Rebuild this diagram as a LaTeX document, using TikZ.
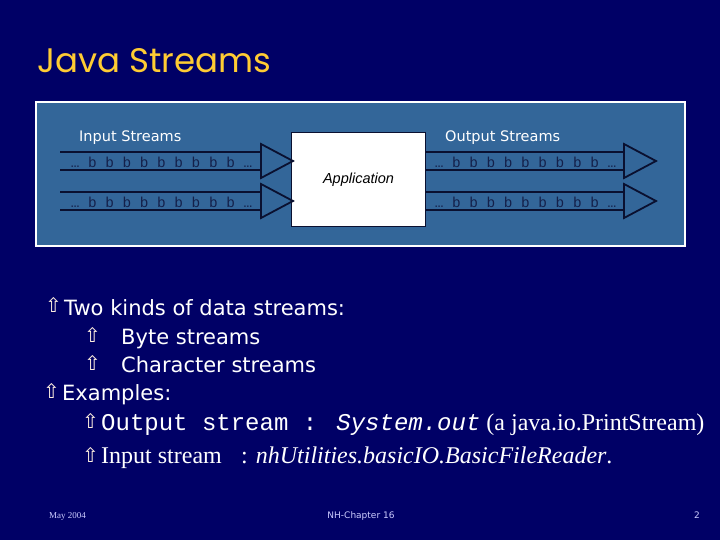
\documentclass[tikz,border=0pt]{standalone}
\usepackage{fontspec}
\setmainfont{DejaVu Sans}
\newfontfamily\titlefont{Poppins}
\newfontfamily\courfont{Liberation Mono}
\newfontfamily\timesfont{Liberation Serif}
\newfontfamily\arialfont{Liberation Sans}
\usetikzlibrary{positioning}
\definecolor{slidebg}{HTML}{000066}
\definecolor{panelblue}{HTML}{336699}
\definecolor{titleyellow}{HTML}{FFCC33}
\definecolor{bitnavy}{HTML}{14204A}
\definecolor{edgedark}{HTML}{0A1030}
\definecolor{footlav}{HTML}{CCCCFF}
\definecolor{iconwhite}{HTML}{FFF0E0}
\tikzset{
  titletxt/.style={font=\titlefont\fontsize{34}{40}\selectfont,text=titleyellow,
                   inner sep=0pt,anchor=base west},
  panel/.style={draw=white,line width=2pt,fill=panelblue,anchor=north west},
  appbox/.style={draw=edgedark,line width=1pt,fill=white,
                 font=\arialfont\itshape\fontsize{14.5}{16}\selectfont},
  streamline/.style={draw=edgedark,line width=2.2pt},
  streamhead/.style={draw=edgedark,line width=1.8pt,fill=panelblue,line join=miter},
  bits/.style={font=\courfont\fontsize{14.4}{16}\selectfont,text=bitnavy,inner sep=0pt},
  streamlbl/.style={font=\fontsize{14.5}{17}\selectfont,text=white,inner sep=0pt,
                    anchor=base west},
  icon/.style={font=\fontsize{20}{22}\selectfont,text=iconwhite,inner sep=0pt,
               anchor=base east},
  point/.style={font=\fontsize{21}{25}\selectfont,text=white,inner sep=0pt,
                anchor=base west},
  codept/.style={font=\fontsize{24}{28}\selectfont,text=white,inner sep=0pt,
                 anchor=base west},
  foot/.style={font=\fontsize{9}{11}\selectfont,text=footlav,inner sep=0pt},
}
\begin{document}
\begin{tikzpicture}[x=1pt,y=-1pt]
  \fill[slidebg] (0,0) rectangle (720,540);
  \useasboundingbox (0,0) rectangle (720,540);

  \node[titletxt] (title) at (37,73) {Java Streams};

  % stream picture
  \node[panel,minimum width=649pt,minimum height=144pt] (panel) at (35,101) {};
  \node[appbox,minimum width=134pt,minimum height=94pt] (app) at (358.5,180) {Application};

  \foreach \nm/\xa/\xb/\yc in {in1/60/261/161,in2/60/261/201,
                               out1/425/624/161,out2/425/624/201}{
    \draw[streamline] (\xa,\yc-9) -- (\xb,\yc-9) (\xa,\yc+9) -- (\xb,\yc+9);
    \draw[streamhead] (\xb,\yc-17) -- (\xb+32,\yc) -- (\xb,\yc+17) -- cycle;
    \node[bits] (\nm) at ({(\xa+\xb)/2+1},\yc+1) {… b b b b b b b b b …};
  }

  \node[streamlbl] (inlbl) at (79,142) {Input Streams};
  \node[streamlbl] (outlbl) at (445,142) {Output Streams};

  % bullet text
  \node[point] (p1) at (64,315) {Two kinds of data streams:};
  \node[icon] (i1) at (62,312) {⇧};
  \node[point] (p2) at (121,344) {Byte streams};
  \node[icon] (i2) at (101,342) {⇧};
  \node[point] (p3) at (121,372) {Character streams};
  \node[icon] (i3) at (101,370) {⇧};
  \node[point] (p4) at (62,400) {Examples:};
  \node[icon] (i4) at (60,398) {⇧};
  \node[codept] (p5) at (101,430)
    {\courfont Output stream : \itshape System.out\upshape\timesfont{} (a java.io.PrintStream)};
  \node[icon] (i5) at (99,428) {⇧};
  \node[codept] (p6) at (101,463) {\timesfont Input stream};
  \node[icon] (i6) at (99,462) {⇧};
  \node[codept] (p6b) at (241,463)
    {\timesfont : \itshape nhUtilities.basicIO.BasicFileReader\upshape.};

  % footer
  \node[foot,anchor=base west] (date) at (49,518) {\timesfont May 2004};
  \node[foot,anchor=base] (chap) at (361,518) {NH-Chapter 16};
  \node[foot,anchor=base east] (page) at (700,518) {2};
\end{tikzpicture}
\end{document}
